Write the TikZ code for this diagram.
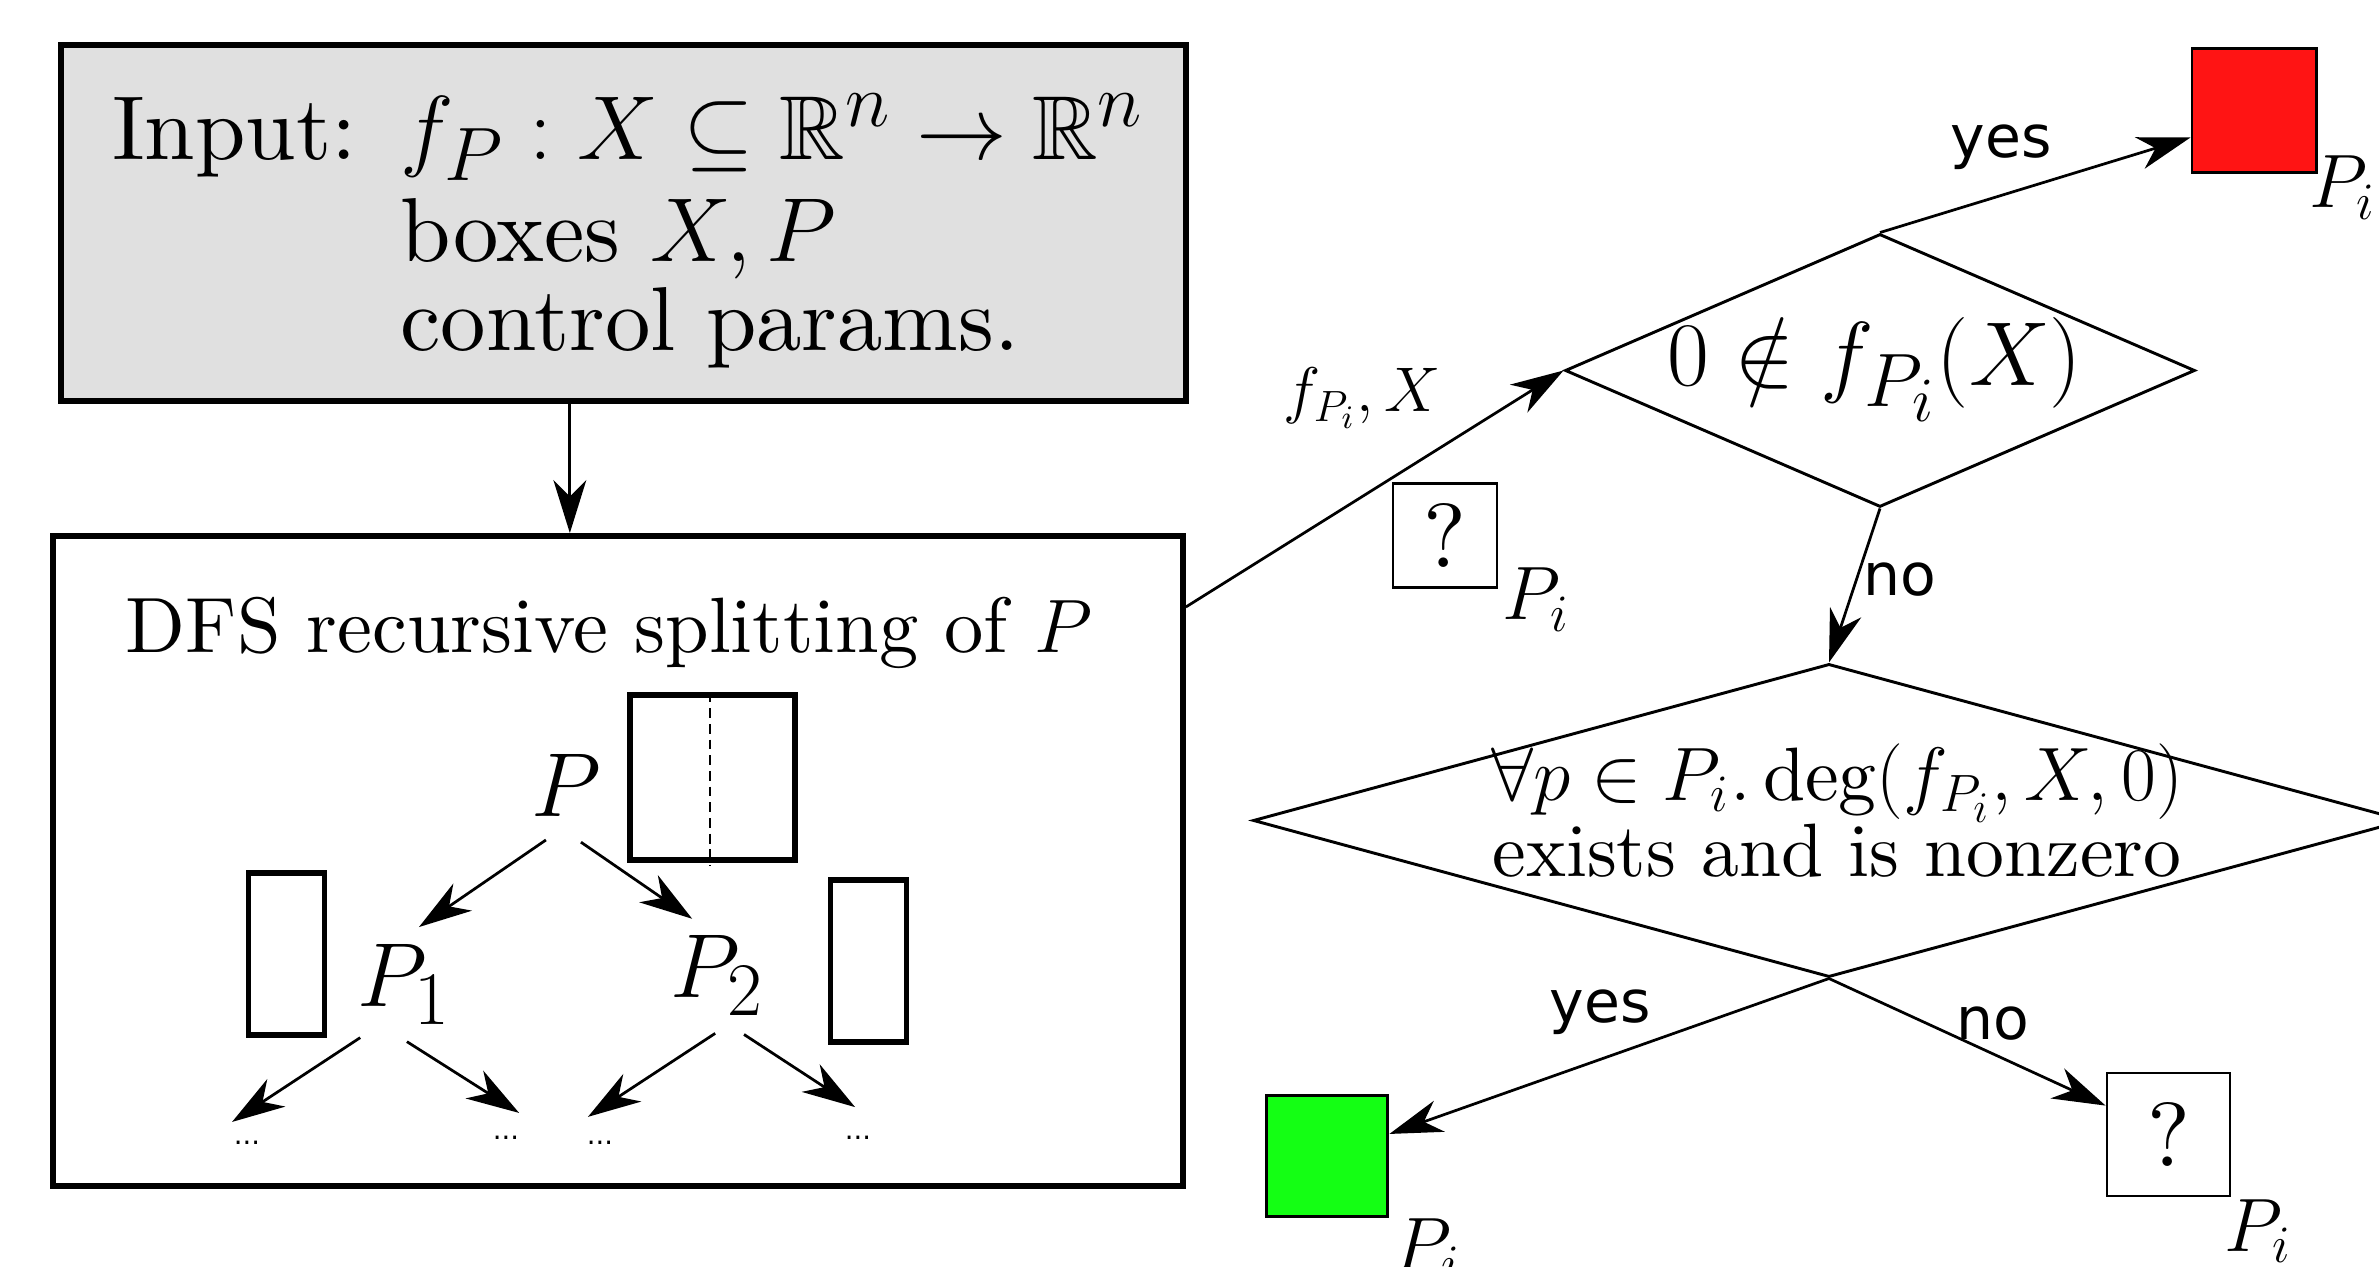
\documentclass[tikz,border=0pt]{standalone}
\usepackage{amsmath,amssymb}
\usepackage{fontspec}
\setmainfont{lmroman10-regular}[Extension=.otf, ItalicFont=lmroman10-italic, BoldFont=lmroman10-bold]
\newfontfamily\labelsans{DejaVu Sans}
\usetikzlibrary{shapes.geometric,arrows.meta}
\definecolor{inputgray}{RGB}{224,224,224}
\definecolor{okgreen}{RGB}{20,255,20}
\definecolor{badred}{RGB}{255,20,20}

\begin{document}
\begin{tikzpicture}[
    x=0.274pt, y=-0.274pt,
    bigbox/.style={rectangle, draw=black, line width=1.6pt, inner sep=0pt},
    decision/.style={diamond, draw=black, line width=0.8pt, inner sep=0pt},
    cell/.style={rectangle, draw=black, line width=1.4pt, inner sep=0pt, minimum width=20.6pt, minimum height=44.4pt},
    result/.style={rectangle, draw=black, line width=0.8pt, inner sep=0pt, font=\Huge},
    plabel/.style={anchor=base west, inner sep=0pt, font=\huge},
    answer/.style={anchor=base, inner sep=0pt, font=\labelsans\fontsize{16}{19}\selectfont},
    treenode/.style={anchor=base, inner sep=2pt, font=\Huge},
    dots/.style={inner sep=1pt, font=\labelsans\fontsize{7.5}{8}\selectfont},
    arrow/.style={line width=0.75pt, -{Stealth[length=14.5pt, width=9pt, inset=4.5pt]}},
    splitline/.style={line width=0.6pt, dash pattern=on 2.7pt off 1.6pt}
]
\useasboundingbox (0,0) rectangle (2379,1267);
\clip (0,0) rectangle (2379,1267);

% --- Left column ---
\node (input) at (623.5,223) [bigbox, fill=inputgray, minimum width=308.3pt, minimum height=97.5pt] {};
\node (inputtext) at (628,235) [inner sep=0pt, font=\fontsize{24.88}{23.4}\selectfont]
  {\begin{tabular}{@{}l@{\hspace{12pt}}l@{}}
   Input: & $f_P : X \subseteq \mathbb{R}^n \to \mathbb{R}^n$\\[3.6pt]
          & boxes $X, P$\\
          & control params.
   \end{tabular}};
\node (dfs) at (618,861) [bigbox, minimum width=309.6pt, minimum height=178.1pt] {};
\node (dfstitle) at (609,653) [anchor=base, inner sep=0pt, font=\fontsize{21.5}{26}\selectfont] {DFS recursive splitting of $P$};

% splitting tree
\node (P) at (566,817) [treenode] {$P$};
\node (P1) at (404,1007) [treenode] {$P_1$};
\node (P2) at (717,998) [treenode] {$P_2$};
\node (cellP) at (712.5,777.5) [cell, minimum width=45.2pt, minimum height=45.2pt] {};
\node (cellA) at (286.5,954) [cell] {};
\node (cellB) at (868.5,961) [cell] {};
\draw [splitline] ([xshift=-0.7pt]cellP.north) -- ([xshift=-0.7pt,yshift=-1pt]cellP.south);

\node (dotsA) at (247,1143) [dots] {...};
\node (dotsB) at (506,1138) [dots] {...};
\node (dotsC) at (600,1143) [dots] {...};
\node (dotsD) at (858,1138) [dots] {...};

% --- Right column (decisions) ---
\node (d1) at (1880,370.5) [decision, minimum width=172.6pt, minimum height=74.8pt] {};
\node (d1text) at (1875,386) [anchor=base, inner sep=0pt, font=\Huge] {$0 \notin f_{P_i}(X)$};
\node (d2) at (1829,820.5) [decision, minimum width=315.6pt, minimum height=85.8pt] {};
\node (d2text) at (1837,877) [anchor=base, inner sep=0pt, align=center, font=\fontsize{20.74}{21}\selectfont]
  {$\forall p \in P_i.\deg(f_{P_i}, X, 0)$\\ exists and is nonzero};

\node (qtop) at (1445,535.5) [result, minimum size=28.5pt] {?};
\node (redbox) at (2254,110.5) [result, fill=badred, minimum size=34pt] {};
\node (greenbox) at (1327,1156) [result, fill=okgreen, minimum size=33.4pt] {};
\node (qbottom) at (2168.5,1134.5) [result, minimum size=33.7pt] {?};

\node (qtoplabel) at ([xshift=1pt,yshift=-8.5pt]qtop.south east) [plabel] {$P_i$};
\node (redlabel) at ([xshift=-2.5pt,yshift=-9.3pt]redbox.south east) [plabel] {$P_i$};
\node (greenlabel) at ([xshift=1pt,yshift=-14.2pt]greenbox.south east) [plabel] {$P_i$};
\node (qbottomlabel) at ([xshift=-2pt,yshift=-14.8pt]qbottom.south east) [plabel] {$P_i$};

\node (flabel) at (1362,412) [anchor=base, inner sep=0pt, font=\fontsize{18.5}{22}\selectfont] {$f_{P_i}, X$};
\node (yesred) at (2001,158) [answer] {yes};
\node (nod1) at (1900,596) [answer] {no};
\node (yesgreen) at (1600,1023) [answer] {yes};
\node (noq) at (1993,1040) [answer] {no};

% --- Edges ---
\draw [arrow] ([xshift=-14.7pt]input.south) -- ([xshift=-14.7pt]input.south |- dfs.north);
\draw [arrow] ([xshift=-5.5pt,yshift=-4.1pt]P.south) -- ([xshift=4.1pt,yshift=2.7pt]P1.north);
\draw [arrow] ([xshift=4.1pt,yshift=-4.7pt]P.south) -- ([xshift=-6.8pt,yshift=2.5pt]P2.north);
\draw [arrow] ([xshift=-12pt,yshift=-1.4pt]P1.south) -- ([xshift=-4.1pt,yshift=4.1pt]dotsA.north);
\draw [arrow] ([xshift=0.8pt,yshift=-2.5pt]P1.south) -- ([xshift=3.6pt,yshift=5.2pt]dotsB.north);
\draw [arrow] ([xshift=-0.5pt,yshift=-2.7pt]P2.south) -- ([xshift=-3.3pt,yshift=5.5pt]dotsC.north);
\draw [arrow] ([xshift=7.4pt,yshift=-3pt]P2.south) -- ([xshift=-0.8pt,yshift=6.8pt]dotsD.north);

\draw [arrow] ([yshift=69.6pt]dfs.east) -- (d1.west);
\draw [arrow] (d1.north) -- ([yshift=-7.4pt]redbox.west);
\draw [arrow] (d1.south) -- (d2.north);
\draw [arrow] (d2.south) -- (greenbox);
\draw [arrow] (d2.south) -- (qbottom);

\end{tikzpicture}
\end{document}
